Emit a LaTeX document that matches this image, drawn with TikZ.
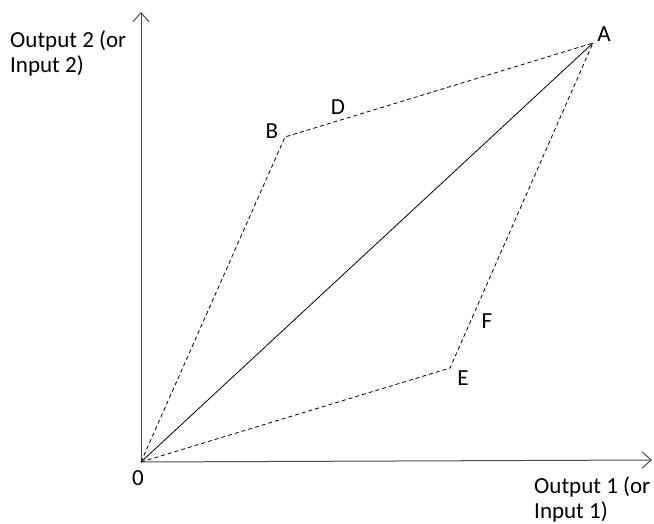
\documentclass[tikz,border=0pt]{standalone}
\usepackage{fontspec}
\setmainfont{Carlito}
\usetikzlibrary{arrows.meta}
\begin{document}
\begin{tikzpicture}[x=1pt,y=-1pt,
  axisline/.style={draw=black!70, line width=1pt, -{Straight Barb[length=9pt,width=16pt]}},
  dashline/.style={draw=black, line width=0.8pt, dash pattern=on 4pt off 3pt},
  solidline/.style={draw=black, line width=0.8pt},
  lbl/.style={font=\fontsize{23}{25}\selectfont, inner sep=0pt}]
\useasboundingbox (0,0) rectangle (654,524);
\coordinate (O) at (141,462);
\coordinate (ytop) at (141,12);
\coordinate (xend) at (652,460);
\coordinate (A) at (593,43);
\coordinate (B) at (285,137);
\coordinate (E) at (450,368);
\draw[axisline] (O) -- (ytop);
\draw[axisline] (O) -- (xend);
\draw[solidline] (O) -- (A);
\draw[dashline] (O) -- (B) -- (A);
\draw[dashline] (O) -- (E) -- (A);
\node[lbl] (lA) at (604,34) {A};
\node[lbl] (lB) at (272,131) {B};
\node[lbl] (lD) at (338,107) {D};
\node[lbl] (lE) at (463,378) {E};
\node[lbl] (lF) at (487,321) {F};
\node[lbl] (l0) at (138,478) {0};
\node[lbl, anchor=base west, align=left] (ly) at (10,73) {Output 2 (or\\Input 2)};
\node[lbl, anchor=base west, align=left] (lx) at (534,518) {Output 1 (or\\Input 1)};
\end{tikzpicture}
\end{document}
